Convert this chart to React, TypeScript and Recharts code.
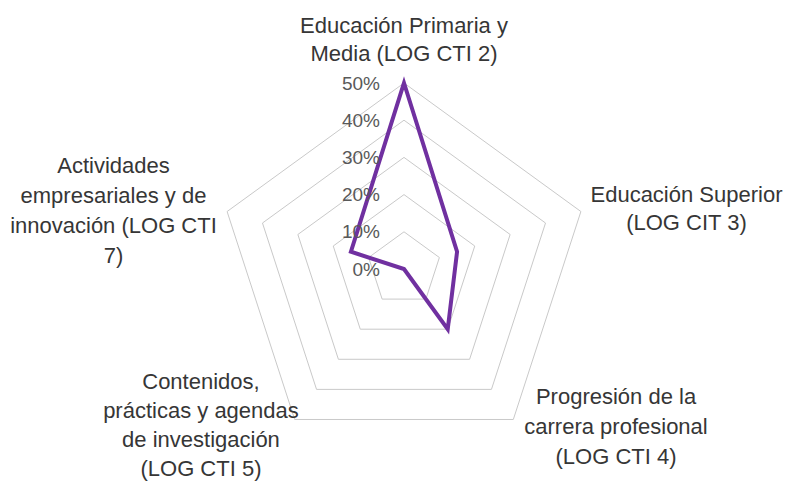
import React from "react";
import { RadarChart, Radar, PolarGrid, PolarAngleAxis, PolarRadiusAxis } from "recharts";

const categories: string[][] = [
  ["Educación Primaria y", "Media (LOG CTI 2)"],
  ["Educación Superior", "(LOG CIT 3)"],
  ["Progresión de la", "carrera profesional", "(LOG CTI 4)"],
  ["Contenidos,", "prácticas y agendas", "de investigación", "(LOG CTI 5)"],
  ["Actividades", "empresariales y de", "innovación (LOG CTI", "7)"],
];
const values: number[] = [50, 15, 20, 0, 15];
const radialTicks: number[] = [0, 10, 20, 30, 40, 50];

const data = categories.map((c, i) => ({ name: c.join("\n"), value: values[i] }));

const labelOffsets: { dx: number; dy: number; lh: number }[] = [
  { dx: 0, dy: -42, lh: 28 },
  { dx: 98, dy: -7, lh: 28 },
  { dx: 98, dy: -22, lh: 30 },
  { dx: -89, dy: -37, lh: 29 },
  { dx: -106, dy: -36, lh: 30 },
];

const FONT = "'Liberation Sans', Arial, sans-serif";

const AngleTick = (props: any) => {
  const { x, y, payload, index } = props;
  const idx = typeof index === "number" ? index : payload.index;
  const o = labelOffsets[idx] || { dx: 0, dy: 0, lh: 29 };
  const lines = String(payload.value).split("\n");
  return (
    <text
      x={x + o.dx}
      y={y + o.dy}
      textAnchor="middle"
      fontFamily={FONT}
      fontSize={22}
      fill="#363636"
    >
      {lines.map((l, i) => (
        <tspan key={i} x={x + o.dx} dy={i === 0 ? 0 : o.lh}>
          {l}
        </tspan>
      ))}
    </text>
  );
};

const RadiusTick = (props: any) => {
  const { x, y, payload } = props;
  return (
    <text
      x={x - 24}
      y={y}
      textAnchor="end"
      dominantBaseline="central"
      fontFamily={FONT}
      fontSize={19}
      fill="#595959"
    >
      {payload.value + "%"}
    </text>
  );
};

export default function App() {
  return (
    <div style={{ position: "absolute", left: 0, top: 0, width: 790, height: 486, background: "#fff" }}>
      <RadarChart
        width={790}
        height={486}
        data={data}
        cx={404}
        cy={269}
        outerRadius={186}
        margin={{ top: 0, right: 0, bottom: 0, left: 0 }}
      >
        <PolarGrid gridType="polygon" radialLines={false} stroke="#c9c9c9" strokeWidth={1} />
        <PolarAngleAxis dataKey="name" tick={<AngleTick />} axisLine={false} tickLine={false} />
        <PolarRadiusAxis
          angle={90}
          domain={[0, 50]}
          ticks={radialTicks as any}
          tickCount={6}
          axisLine={false}
          tickLine={false}
          tick={<RadiusTick />}
        />
        <Radar
          dataKey="value"
          stroke="#7030A0"
          strokeWidth={4}
          fill="none"
          fillOpacity={0}
          dot={false}
          isAnimationActive={false}
        />
      </RadarChart>
    </div>
  );
}
